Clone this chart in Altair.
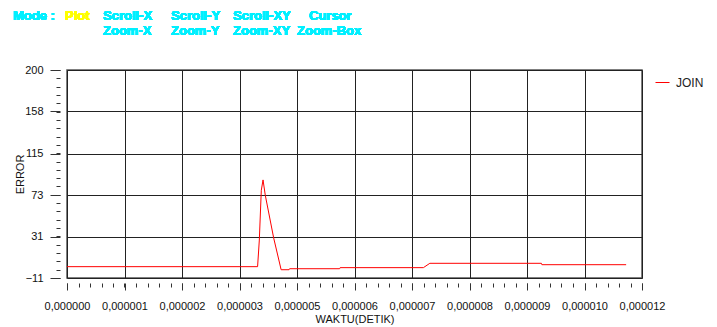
import altair as alt
import numpy as np
import pandas as pd

# Error trace of the JOIN series over time (seconds)
waktu = [0.0, 3.845e-6, 3.88e-6, 3.92e-6, 3.955e-6, 4.0e-6, 4.17e-6, 4.32e-6,
         4.48e-6, 4.49e-6, 5.50e-6, 5.51e-6, 7.19e-6, 7.32e-6, 9.57e-6, 9.58e-6,
         11.28e-6]
error = [0.5, 0.5, 27.5, 78.0, 88.5, 73.0, 29.5, -2.6,
         -2.6, -1.6, -1.6, -0.5, -0.5, 3.9, 3.9, 2.5,
         2.5]
series = ["JOIN"] * len(waktu)

# Axis layout
x_max = 1.16e-5
y_min, y_max = -11, 200
y_ticks = [-11, 31, 73, 115, 158, 200]
x_ticks = [x_max * k / 10 for k in range(11)]
x_minor = [x_max * k / 50 for k in range(51)]
y_minor = list(np.linspace(y_min, y_max, 26))

# Toolbar labels across the top
menu_text = ["Mode :", "Plot", "Scroll-X", "Scroll-Y", "Scroll-XY", "Cursor",
             "Zoom-X", "Zoom-Y", "Zoom-XY", "Zoom-Box"]
menu_x = [13, 65, 103, 171, 233, 309, 103, 171, 233, 297]
menu_row = [0, 0, 0, 0, 0, 0, 1, 1, 1, 1]
menu_colour = ["#00F0FF", "#FFFF00"] + ["#00F0FF"] * 8

df = pd.DataFrame({"waktu": waktu, "error": error, "series": series})

LEFT, TOP = 67, 70
FONT = "Liberation Sans"

x_scale = alt.Scale(domain=[0, x_max], nice=False, zero=False)
y_scale = alt.Scale(domain=[y_min, y_max], nice=False, zero=False)

line = alt.Chart(df).mark_line(strokeWidth=1, clip=True).encode(
    x=alt.X("waktu:Q", scale=x_scale, title="WAKTU(DETIK)",
            axis=alt.Axis(values=x_ticks, orient="bottom", offset=5, domain=False,
                          tickSize=7, tickColor="#333", tickWidth=1,
                          grid=True, gridColor="#222", gridOpacity=1,
                          labelExpr="replace(format(datum.value, '.6f'), '.', ',')",
                          labelOverlap=False, labelBound=False, labelFlush=False,
                          labelFont=FONT, labelFontSize=11, labelColor="#111",
                          labelPadding=10, titleFont=FONT, titleFontSize=11,
                          titleFontWeight="normal", titleColor="#111", titlePadding=2)),
    y=alt.Y("error:Q", scale=y_scale, title="ERROR",
            axis=alt.Axis(values=y_ticks, orient="left", offset=7, domain=False,
                          tickSize=10, tickColor="#333", tickWidth=1,
                          grid=True, gridColor="#222", gridOpacity=1,
                          labelOverlap=False, labelBound=False, labelFlush=False,
                          labelFont=FONT, labelFontSize=11, labelColor="#111",
                          labelPadding=7, titleFont=FONT, titleFontSize=11,
                          titleFontWeight="normal", titleColor="#111", titlePadding=-1)),
    color=alt.Color("series:N",
                    scale=alt.Scale(domain=["JOIN"], range=["#FF0000"]),
                    legend=alt.Legend(orient="none", legendX=588, legendY=5, title=None,
                                      symbolType="stroke", symbolSize=196,
                                      symbolStrokeWidth=1, labelOffset=6, labelFont=FONT,
                                      labelFontSize=12, labelColor="#222")),
)

# Minor tick marks on both axes
minor = alt.Chart(df).mark_line(strokeOpacity=0).encode(
    x=alt.X("waktu:Q", scale=x_scale, title=None,
            axis=alt.Axis(values=x_minor, orient="bottom", offset=5, domain=False,
                          tickSize=4, tickColor="#333", labels=False, grid=False)),
    y=alt.Y("error:Q", scale=y_scale, title=None,
            axis=alt.Axis(values=y_minor, orient="left", offset=7, domain=False,
                          tickSize=4, tickColor="#333", labels=False, grid=False)),
)

layers = [line, minor]
for txt, px, row, col in zip(menu_text, menu_x, menu_row, menu_colour):
    layers.append(
        alt.Chart(df).mark_text(text=txt, align="left", baseline="middle",
                                font=FONT, fontSize=13, fontWeight="bold",
                                color=col).encode(
            x=alt.value(px - LEFT), y=alt.value((16 if row == 0 else 31) - TOP))
    )

chart = alt.layer(*layers).resolve_axis(x="independent", y="independent").properties(
    width=575, height=208,
    autosize=alt.AutoSizeParams(type="none"),
    padding={"left": LEFT, "top": TOP, "right": 75, "bottom": 49},
    background="white",
).configure_view(stroke="#555", strokeWidth=1.5)

chart.save("out.html", embed_options={"renderer": "svg", "actions": False})
